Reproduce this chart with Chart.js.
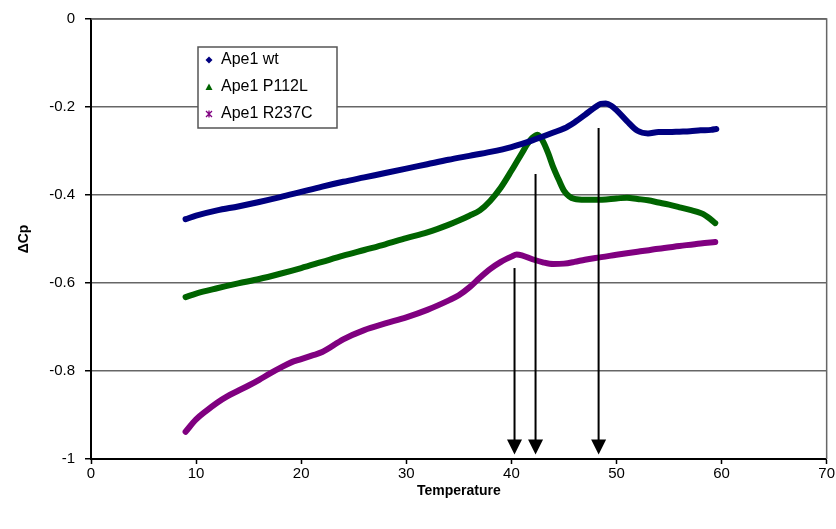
<!DOCTYPE html>
<html>
<head>
<meta charset="utf-8">
<script src="https://cdn.jsdelivr.net/npm/chart.js@4/dist/chart.umd.min.js"></script>
<style>
  html, body { margin: 0; padding: 0; background: #fff; }
  #wrap { width: 836px; height: 529px; }
</style>
</head>
<body>
<div id="wrap"><canvas id="dscChart"></canvas></div>
<script>
// Ape1 wt
const wtTemp = [9, 10, 12, 14, 16, 18, 20, 22, 24, 26, 28, 30, 32, 34, 36, 38, 40, 42, 43, 44, 45, 46, 47, 48, 48.5, 49, 49.5, 50, 51, 52, 53, 54, 55, 56, 57, 58, 59, 59.5];
const wtCp = [-0.455, -0.447, -0.435, -0.426, -0.416, -0.405, -0.393, -0.381, -0.370, -0.360, -0.350, -0.340, -0.330, -0.320, -0.311, -0.302, -0.291, -0.276, -0.267, -0.258, -0.249, -0.235, -0.218, -0.200, -0.193, -0.192, -0.197, -0.207, -0.232, -0.254, -0.260, -0.257, -0.257, -0.256, -0.255, -0.253, -0.252, -0.250];

// Ape1 P112L
const p112Temp = [9, 10, 12, 14, 16, 18, 20, 22, 24, 26, 28, 30, 32, 34, 35, 36, 37, 38, 39, 40, 40.5, 41, 41.5, 42, 42.5, 43, 43.5, 44, 44.5, 45, 45.5, 46, 47, 48, 50, 51, 52, 53, 54, 55, 56, 57, 58, 58.5, 59, 59.4];
const p112Cp = [-0.632, -0.624, -0.612, -0.601, -0.591, -0.579, -0.566, -0.552, -0.538, -0.525, -0.512, -0.498, -0.485, -0.468, -0.458, -0.447, -0.435, -0.413, -0.383, -0.345, -0.325, -0.305, -0.285, -0.270, -0.263, -0.278, -0.305, -0.338, -0.365, -0.390, -0.403, -0.409, -0.411, -0.411, -0.408, -0.406, -0.409, -0.412, -0.417, -0.422, -0.428, -0.434, -0.441, -0.447, -0.456, -0.464];

// Ape1 R237C
const r237Temp = [9, 10, 11, 12, 13, 14, 15, 16, 17, 18, 19, 20, 21, 22, 24, 26, 28, 30, 32, 34, 35, 36, 37, 38, 39, 40, 40.5, 41, 42, 43, 44, 45, 46, 47, 48, 50, 52, 54, 56, 58, 59.4];
const r237Cp = [-0.938, -0.910, -0.890, -0.872, -0.857, -0.845, -0.833, -0.820, -0.806, -0.793, -0.781, -0.773, -0.765, -0.757, -0.728, -0.707, -0.692, -0.678, -0.661, -0.640, -0.628, -0.610, -0.588, -0.568, -0.552, -0.540, -0.535, -0.537, -0.546, -0.553, -0.557, -0.556, -0.552, -0.547, -0.543, -0.536, -0.529, -0.522, -0.516, -0.510, -0.507];

// transition arrows (temperature, top of arrow, tip)
const arrowTemp = [40.3, 42.3, 48.3];
const arrowTop = [-0.566, -0.352, -0.248];
const arrowTip = -0.99;

const xTicks = [0, 10, 20, 30, 40, 50, 60, 70];
const yTicks = [0, -0.2, -0.4, -0.6, -0.8, -1];

const toPoints = (xs, ys) => xs.map((x, i) => ({ x: x, y: ys[i] }));

const FONT = "'Liberation Sans', Arial, sans-serif";

const arrowPlugin = {
    id: "arrows",
    afterDatasetsDraw(chart) {
        const { ctx, scales } = chart;
        ctx.save();
        ctx.strokeStyle = "#000";
        ctx.fillStyle = "#000";
        ctx.lineWidth = 2;
        arrowTemp.forEach((t, i) => {
            const x = scales.x.getPixelForValue(t);
            const y0 = scales.y.getPixelForValue(arrowTop[i]);
            const y1 = scales.y.getPixelForValue(arrowTip);
            ctx.beginPath();
            ctx.moveTo(x, y0);
            ctx.lineTo(x, y1 - 12);
            ctx.stroke();
            ctx.beginPath();
            ctx.moveTo(x - 7.5, y1 - 15);
            ctx.lineTo(x + 7.5, y1 - 15);
            ctx.lineTo(x, y1);
            ctx.closePath();
            ctx.fill();
        });
        ctx.restore();
    },
};

function drawMarker(ctx, style, x, y, color) {
    ctx.save();
    ctx.fillStyle = color;
    ctx.strokeStyle = color;
    ctx.lineWidth = 1.3;
    ctx.beginPath();
    if (style === "rectRot") {
        ctx.moveTo(x, y - 3.5);
        ctx.lineTo(x + 3.5, y);
        ctx.lineTo(x, y + 3.5);
        ctx.lineTo(x - 3.5, y);
        ctx.closePath();
        ctx.fill();
    } else if (style === "triangle") {
        ctx.moveTo(x, y - 3.5);
        ctx.lineTo(x + 3.5, y + 3);
        ctx.lineTo(x - 3.5, y + 3);
        ctx.closePath();
        ctx.fill();
    } else {
        ctx.moveTo(x - 3, y - 3);
        ctx.lineTo(x + 3, y + 3);
        ctx.moveTo(x + 3, y - 3);
        ctx.lineTo(x - 3, y + 3);
        ctx.moveTo(x, y - 3.5);
        ctx.lineTo(x, y + 3.5);
        ctx.stroke();
    }
    ctx.restore();
}

const boxLegendPlugin = {
    id: "boxLegend",
    afterDraw(chart) {
        const { ctx, chartArea } = chart;
        const left = chartArea.left + 107;
        const top = chartArea.top + 28;
        const w = 139;
        const h = 81;
        ctx.save();
        ctx.fillStyle = "#fff";
        ctx.fillRect(left, top, w, h);
        ctx.strokeStyle = "#555";
        ctx.lineWidth = 1.5;
        ctx.strokeRect(left, top, w, h);
        ctx.font = "16px " + FONT;
        ctx.textBaseline = "middle";
        chart.data.datasets.forEach((ds, i) => {
            const y = top + 13 + i * 27;
            drawMarker(ctx, ds.pointStyle, left + 11, y, ds.borderColor);
            ctx.fillStyle = "#000";
            ctx.fillText(ds.label, left + 23, y);
        });
        ctx.restore();
    },
};

const frameLinePlugin = {
    id: "frameLine",
    beforeDatasetsDraw(chart) {
        const { ctx, chartArea } = chart;
        ctx.save();
        ctx.strokeStyle = "#666";
        ctx.lineWidth = 1.5;
        ctx.beginPath();
        ctx.moveTo(chartArea.left, chartArea.top);
        ctx.lineTo(chartArea.right, chartArea.top);
        ctx.lineTo(chartArea.right, chartArea.bottom);
        ctx.stroke();
        ctx.restore();
    },
};

document.addEventListener("DOMContentLoaded", () => {
    const ctx = document.getElementById("dscChart").getContext("2d");
    new Chart(ctx, {
        type: "line",
        data: {
            datasets: [
                {
                    label: "Ape1 wt",
                    data: toPoints(wtTemp, wtCp),
                    borderColor: "#000080",
                    pointStyle: "rectRot",
                },
                {
                    label: "Ape1 P112L",
                    data: toPoints(p112Temp, p112Cp),
                    borderColor: "#006400",
                    pointStyle: "triangle",
                },
                {
                    label: "Ape1 R237C",
                    data: toPoints(r237Temp, r237Cp),
                    borderColor: "#800080",
                    pointStyle: "star",
                },
            ],
        },
        options: {
            responsive: true,
            maintainAspectRatio: false,
            animation: false,
            layout: {
                padding: { top: 19, right: 9, left: 0, bottom: 0 },
            },
            elements: {
                line: {
                    borderWidth: 6,
                    cubicInterpolationMode: "monotone",
                    borderCapStyle: "round",
                    borderJoinStyle: "round",
                    fill: false,
                },
                point: { radius: 0, hoverRadius: 0 },
            },
            scales: {
                x: {
                    type: "linear",
                    min: 0,
                    max: 70,
                    afterBuildTicks: (scale) => {
                        scale.ticks = xTicks.map((v) => ({ value: v }));
                    },
                    afterFit: (scale) => {
                        scale.height = 70;
                    },
                    ticks: {
                        color: "#000",
                        font: { family: FONT, size: 15 },
                        padding: 1,
                        maxRotation: 0,
                    },
                    grid: {
                        drawOnChartArea: false,
                        tickColor: "#000",
                        tickLength: 5,
                        tickWidth: 1.5,
                    },
                    border: { color: "#000", width: 2 },
                    title: {
                        display: true,
                        text: "Temperature",
                        color: "#000",
                        font: { family: FONT, size: 14, weight: "bold" },
                        padding: { top: 4, bottom: 29 },
                    },
                },
                y: {
                    type: "linear",
                    min: -1,
                    max: 0,
                    afterBuildTicks: (scale) => {
                        scale.ticks = yTicks.map((v) => ({ value: v }));
                    },
                    afterFit: (scale) => {
                        scale.width = 91;
                    },
                    ticks: {
                        color: "#000",
                        font: { family: FONT, size: 15 },
                        padding: 10,
                        callback: (v) => String(v),
                    },
                    grid: {
                        color: "#666",
                        lineWidth: 1.5,
                        tickColor: "#000",
                        tickLength: 6,
                    },
                    border: { color: "#000", width: 2 },
                    title: {
                        display: true,
                        text: "\u0394Cp",
                        color: "#000",
                        font: { family: FONT, size: 14, weight: "bold" },
                        padding: { top: 16, bottom: 0 },
                    },
                },
            },
            plugins: {
                legend: { display: false },
                tooltip: { enabled: false },
            },
        },
        plugins: [frameLinePlugin, arrowPlugin, boxLegendPlugin],
    });
});
</script>
</body>
</html>
